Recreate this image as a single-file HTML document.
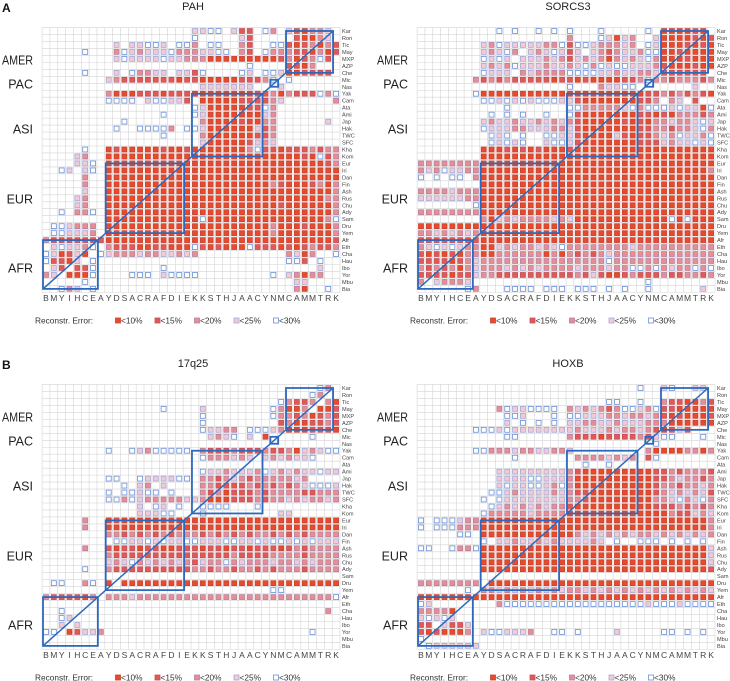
<!DOCTYPE html>
<html><head><meta charset="utf-8"><style>
html,body{margin:0;padding:0;background:#fff}
svg{display:block}
text{font-family:"Liberation Sans",Arial,sans-serif}
</style></head><body>
<svg id="fig" width="730" height="681" viewBox="0 0 730 681" xmlns="http://www.w3.org/2000/svg"></svg>
<script>
const rowLabels=["Kar","Ron","Tic","May","MXP","AZP","Che","Mic","Nas","Yak","Cam","Ata","Ami","Jap","Hak","TWC","SFC","Kha","Kom","Eur","Iri","Dan","Fin","Ash","Rus","Chu","Ady","Sam","Dru","Yem","Afr","Eth","Cha","Hau","Ibo","Yor","Mbu","Bia"];
const colLabels=["B","M","Y","I","H","C","E","A","Y","D","S","A","C","R","A","F","D","I","E","K","K","S","T","H","J","A","A","C","Y","N","M","C","A","M","M","T","R","K"];
const groupNames=["AMER","PAC","ASI","EUR","AFR"];
const groupStart=[0,7,9,19,30];
const groupEnd=[6,8,18,29,37];
const legendLabels=["<10%","<15%","<20%","<25%","<30%"];

const pahCells=[
".........."+".........4"+"455.422.53"+".421334.",
".........."+".........5"+".....42..."+"..21134.",
".........4"+".44554.553"+".55..32..5"+"52123132",
".....5...3"+"5434445333"+"4455.32.53"+"33221312",
".........4"+"5444454433"+"3111111111"+"2312352.",
".........."+".........."+"......5..."+".2213...",
".....5...4"+".53344.442"+"5....54.55"+"4112222.",
"........43"+"2222222122"+"1111122235"+".5......",
".........."+".........."+"4444444..."+"4.......",
"........31"+"1122212221"+"1111111223"+"13222535",
"........55"+"55.455442."+"1111122223"+"4......3",
".........."+".........5"+"4111112253"+"........",
".........."+".....5...5"+"4111111143"+"........",
".........."+"5........."+"3111121133"+"......4.",
".........5"+"..55553.55"+"4111111423"+"........",
".........."+".....5...."+"3111111223"+"........",
".........."+".........."+"4111112434"+"........",
".....5..12"+"1111121121"+"1111113522"+"12223233",
"....43..11"+"1111111111"+"1111111111"+"11121523",
"....445.11"+"1111111111"+"1111111111"+"11111123",
"..54.45.11"+"1111111111"+"1111111111"+"11111111",
".....3..11"+"1111111111"+"1111111111"+"11111111",
".....3..11"+"1111111111"+"1111111113"+"21112313",
".....4..11"+"1111111111"+"1111111111"+"11111113",
"....43..11"+"1111111111"+"1111111111"+"11111133",
"....43..11"+"1111111111"+"1111111111"+"21111113",
"..5.335.11"+"1111111111"+"1111111111"+"11111113",
"........11"+"1111111111"+"5111111111"+"11111135",
".554333.11"+"1111111111"+"1111111113"+"11121113",
".554443.11"+"1111111111"+"1111111113"+"11111113",
"3222222211"+"1111111111"+"1111111111"+"11111112",
".454435.32"+"2211221115"+"2121115222"+"12123223",
"541241.543"+"3343344343"+".........."+".3413..5",
"52214.5..."+".........."+".........."+".552.5..",
".42.225..."+".....5...."+".........."+".....4..",
"34.1115..."+".555.45555"+".........5"+".43133..",
".....5...."+".........."+".........."+"..44....",
"..534.5..."+".........."+".........."+"..31..5."];

const sorcs3Cells=[
".........."+"5.5..5.5.5"+"...5.....5"+".111121.",
".........."+".........3"+"...54143.."+"41111212",
"........43"+"5444443352"+"55433343.5"+"41112121",
"........43"+"453.434542"+"4.43234435"+"51121111",
"........54"+"54.4443432"+"4343134345"+"31112111",
"........43"+"4354443443"+"4535455444"+"32111211",
"........54"+"44.3433335"+"5554434433"+"4222222.",
".......323"+"2322222122"+"1211112235"+"33233323",
".........."+".........5"+"...34455.."+".....4..",
".......511"+"1111111111"+"1111111112"+"23232321",
"........55"+"4545455544"+"2111111122"+"3.34.2..",
".........."+".5.......5"+"5333334535"+"55454415",
".........5"+".5.5..5..5"+"2111111122"+"12133323",
"........43"+"4434434343"+"2111112121"+"33433454",
"........54"+"4433444334"+"2111111122"+"33233453",
".........5"+"45.5..5544"+"2111142122"+"34354435",
".........5"+"4545..4554"+"2111111122"+"24344545",
"........11"+"1212121112"+"1111111111"+"11111111",
"........11"+"1111111111"+"1111111111"+"11111111",
"3333333311"+"1111111111"+"1111111111"+"11111111",
"3435443311"+"1111111111"+"1111111111"+"11111113",
"5.5.55.311"+"1111111111"+"1111111111"+"11111111",
"........11"+"1111111111"+"1111111111"+"11111111",
"3333433311"+"1111111111"+"1111111111"+"11111111",
"4444443311"+"1111111111"+"1111111111"+"11111111",
".......511"+"1111111111"+"1111111111"+"11111111",
"3333333311"+"1111111111"+"1111111111"+"11111111",
"........31"+"4343333434"+"1111111111"+"11515111",
"1111111111"+"1111111111"+"1111111111"+"11111111",
"3343434311"+"1111111111"+"1111111111"+"11111111",
"2222222211"+"1111111111"+"1111111111"+"11111111",
"3454543311"+"4343343453"+"3333333433"+"33333333",
"2121213311"+"3333331313"+"2323433333"+"33333333",
"2222123433"+"3333333333"+"3333533333"+"33333333",
"3232313433"+"3434343333"+"4333433553"+"53433535",
"2222122433"+"2222222222"+"3242112322"+"23223323",
"3.43334..."+".........."+".........5"+"........",
"......53.."+".5555.555."+"555.5.5..5"+"......4."];

const q17Cells=[
".........."+".........."+".........."+".....53.",
".........."+".........."+".........."+"....53..",
".........."+".........."+".........."+"53223.31",
".........."+".....5...."+"4........5"+"3113.112",
".........."+".........."+"5........5"+"33231232",
".........."+".........."+"5........."+"23112232",
".........."+".........."+"54433.5554"+"31112221",
".........."+".........."+".4345.4.1."+"....5...",
"",
"........5."+".54355555."+"3222322232"+"23143455",
".........."+".........."+"5333434.43"+"43445...",
"",
".........."+".........."+"5443444354"+"34344544",
"........55"+"..5444455."+"3323432333"+"3343....",
".........."+"5.43.4...."+"3322223232"+"32345554",
"........5."+"55455.5..."+"3231222323"+"33322333",
"........55"+"3543333344"+"3111222323"+"34343343",
".........."+"..4.54.5.."+"5555...5.."+"........",
".........."+"..44455..."+"5........."+"44......",
".....3..12"+"1111111111"+"1111111111"+"11111111",
".....3..11"+"1111111111"+"1111111111"+"11111111",
"........33"+"2323232333"+"2323232332"+"32323333",
".........5"+"5445454455"+"4445544545"+"54545444",
".....3..21"+"2212211222"+"1221221222"+"12323333",
"........32"+"2222222222"+"2222322223"+"33323333",
"........43"+"4534343432"+"4335343334"+"33434333",
".....5..32"+"2222222223"+"3233233232"+"33323333",
"",
".55..35.1."+"1111111111"+"1111111111"+"11111111",
".........."+".........."+".........5"+"5.......",
"3222213.33"+"3433333333"+"3333333333"+"33333335",
"",
"..5......."+".........."+".........."+"......3.",
"..54......",
"..4.4.....",
"55.12443.."+".........."+".........."+"....5...",
"",
""];

const hoxbCells=[
".........."+".........."+"........5."+".45..44.",
"",
".........."+".........."+"....55..5."+".3221132",
".........."+"35445555.3"+"4343235543"+"52211111",
".........."+".554...5.5"+"5444334334"+"32121112",
".........."+".4.5.5.5.4"+"4334434443"+"33111111",
".......555"+"4544444444"+"3444343343"+"21242...",
".........."+".55......3"+"2221222232"+"455...5.",
".........."+".........."+".........."+"5.......",
".......553"+"3343344334"+".........3"+"11113313",
".........."+"..5......."+"33334343.2"+"5.......",
".........."+".........."+".5..5....."+"........",
".........."+"4444444443"+"2111111111"+"22323332",
".........."+"4444554443"+"1111111111"+"22343323",
".........."+"4544554353"+"1111111111"+"23323343",
".........5"+"5434444343"+"2211111111"+"23434342",
"........5."+"5444444443"+"3211111111"+"33453453",
".........5"+"4343434332"+"1111111111"+"22232323",
"........53"+"3333433331"+"1111111111"+"11322434",
"5.55543311"+"1111111111"+"1111111111"+"11111113",
"5.55533311"+"1111111111"+"1111111111"+"11111113",
".....55.11"+"1111111111"+"3434343433"+"43434343",
"........5."+"4434434344"+"4434.5..55"+"5.5.5.5.",
"55..533511"+"1111111111"+"1111111111"+"11111114",
"........11"+"1111111111"+"1111111111"+"11111114",
"........11"+"1111111111"+"1111111111"+"11111114",
"........11"+"1111111111"+"1111111111"+"11111112",
"",
"33333333.1"+"1111111111"+"1111111111"+"11111111",
"......5.33"+"4343434343"+"3434343434"+"34343434",
"1111111111"+"1111111111"+"1111111111"+"11111111",
"54........"+"3555555555"+"5555555554"+"55545555",
"33331.....",
"45454.....",
"22.4224...",
"2121113.45"+"54443..55."+"5....4...."+".55.5.5.",
"5.........",
".5444444.."];

const NS="http://www.w3.org/2000/svg";
const svg=document.getElementById('fig');
const FILL=["","#e9492c","#e25856","#e98d95","#f5c9d2","#ffffff"];
const STROKE=["","#c9442f","#c2525a","#b6819c","#a3a9d8","#6a8fd8"];
const CW=7.84, RH=6.97;
function mk(tag,attrs,parent){const e=document.createElementNS(NS,tag);for(const k in attrs)e.setAttribute(k,attrs[k]);(parent||svg).appendChild(e);return e;}

function drawPanel(ox,oy,letter,title,cells,key){
  const g=mk('g',{});
  
  
  const cx=j=>ox+46+CW*j;
  const cy=i=>oy+31+RH*i;
  if(letter){const t=mk('text',{x:ox+2,y:oy+12,'font-size':12,'font-weight':'bold',fill:'#111'},g);t.textContent=letter;
    }
  const tt=mk('text',{x:ox+193,y:oy+10,'font-size':11,'text-anchor':'middle',fill:'#222'},g);tt.textContent=title;
  
  const grid=mk('g',{stroke:'#d4d4d4','stroke-width':0.6},g);
  
  const x0=cx(0)-CW/2,x1=cx(37)+CW/2,y0=cy(0)-RH/2,y1=cy(37)+RH/2;
  for(let j=0;j<=38;j++){const x=x0+CW*j;mk('line',{x1:x,x2:x,y1:y0,y2:y1},grid);}
  for(let i=0;i<=38;i++){const y=y0+RH*i;mk('line',{x1:x0,x2:x1,y1:y,y2:y},grid);}
  const cg=mk('g',{},g);
  
  cells.forEach((row,i)=>{
    const r=row.padEnd(38,'.').slice(0,38);
    for(let j=0;j<38;j++){
      const v=parseInt(r[j]);
      if(!v)continue;
      const s=mk('rect',{x:cx(j)-2.5,y:cy(i)-2.45,width:5.0,height:4.9,fill:FILL[v],stroke:STROKE[v],'stroke-width':0.8},cg);
      
      
    }
  });
  const labelY=[60,84,129,199,268];
  groupNames.forEach((n,k)=>{
    const a=groupStart[k],b=groupEnd[k];
    const bx0=cx(37-b)-3,bx1=cx(37-a)-3,by0=cy(a),by1=cy(b);
    const r=mk('rect',{x:bx0,y:by0,width:bx1-bx0,height:by1-by0,fill:'none',stroke:'#2e69bd','stroke-width':1.8},g);
    
    
    const t=mk('text',{x:ox+33,y:oy+labelY[k]+4.5,'font-size':12.5,'text-anchor':'end',fill:'#222'},g);
    if(n==='AMER'){t.setAttribute('textLength','31');t.setAttribute('lengthAdjust','spacingAndGlyphs');}
    t.textContent=n;
    
    
  });
  const d=mk('line',{x1:cx(0)-3,y1:cy(37),x2:cx(37)-3,y2:cy(0),stroke:'#2e69bd','stroke-width':1.5},g);
  
  rowLabels.forEach((l,i)=>{
    const t=mk('text',{x:ox+342,y:cy(i)+2,'font-size':5.6,fill:'#444'},g);
    t.textContent=l;
    
    
  });
  colLabels.forEach((l,j)=>{
    const t=mk('text',{x:cx(j),y:oy+301,'font-size':8.5,'text-anchor':'middle',fill:'#444'},g);
    t.textContent=l;
    
    
  });
  const lt=mk('text',{x:ox+35,y:oy+323.5,'font-size':8.3,fill:'#333'},g);
  lt.textContent='Reconstr. Error:';
  
  const lx=[118,157.5,197,236.5,276];
  legendLabels.forEach((lab,k)=>{
    const s=mk('rect',{x:ox+lx[k]-2.5,y:oy+318,width:5,height:5,fill:FILL[k+1],stroke:STROKE[k+1],'stroke-width':0.8},g);
    
    const t=mk('text',{x:ox+lx[k]+3,y:oy+323.5,'font-size':8.3,fill:'#333'},g);
    t.textContent=lab;
    
  });
}
drawPanel(0,0,'A','PAH',pahCells,'pah');
drawPanel(375,0,'','SORCS3',sorcs3Cells,'sorcs3');
drawPanel(0,357,'B','17q25',q17Cells,'17q25');
drawPanel(375,357,'','HOXB',hoxbCells,'hoxb');
</script>
</body></html>
